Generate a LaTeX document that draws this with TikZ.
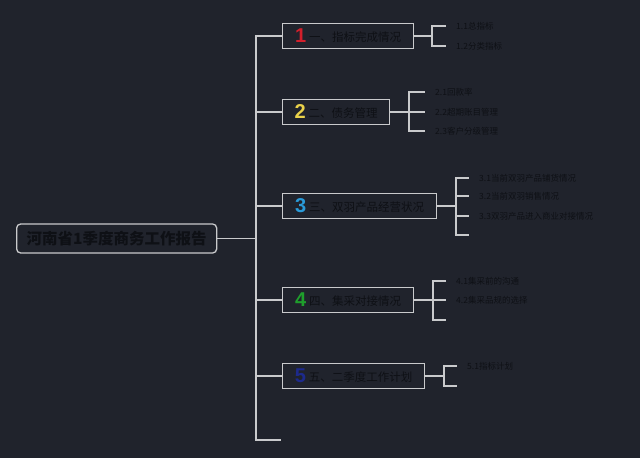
\documentclass[tikz,border=0pt]{standalone}
\usepackage{fontspec}
\setmainfont{Noto Sans CJK SC}
\newfontfamily\numfont{Liberation Sans}
\definecolor{bg}{HTML}{20232C}
\definecolor{linec}{HTML}{C9CACC}
\definecolor{txt}{HTML}{0E1015}
\definecolor{nred}{HTML}{D21F2B}
\definecolor{nyel}{HTML}{EAD24A}
\definecolor{nblue}{HTML}{2A9BD9}
\definecolor{ngreen}{HTML}{1F9F2C}
\definecolor{nnavy}{HTML}{1D2A8C}
\newcommand\bnum[2]{{\numfont\bfseries\fontsize{20}{20}\selectfont\color{#1}\raisebox{-1pt}{#2}}\hspace{3pt}}
\begin{document}
\begin{tikzpicture}[x=1pt,y=-1pt,
  conn/.style={draw=linec, line width=1.3pt},
  rootbox/.style={draw=linec, line width=1.3pt, fill=bg, rounded corners=4pt,
    minimum width=200pt, minimum height=29pt, inner sep=0pt, anchor=west,
    text=txt, font=\fontsize{15.5}{16}\selectfont\bfseries},
  branch/.style={draw=linec, line width=1.3pt, fill=bg, minimum height=25pt,
    inner sep=0pt, anchor=west, text=txt, font=\fontsize{11.5}{12}\selectfont},
  leaf/.style={anchor=west, inner xsep=10pt, inner ysep=0pt, text=txt,
    font=\fontsize{8.5}{9}\selectfont}]
\fill[bg] (0,0) rectangle (640,458);
\useasboundingbox (0,0) rectangle (640,458);

% root
\node[rootbox] (root) at (16,238.5) {河南省1季度商务工作报告};

% branches
\node[branch, minimum width=131pt] (b1) at (282,36) {\bnum{nred}{1}一、指标完成情况};
\node[branch, minimum width=107pt] (b2) at (282,112) {\bnum{nyel}{2}二、债务管理};
\node[branch, minimum width=154pt] (b3) at (282,206) {\bnum{nblue}{3}三、双羽产品经营状况};
\node[branch, minimum width=131pt] (b4) at (282,300) {\bnum{ngreen}{4}四、集采对接情况};
\node[branch, minimum width=142pt] (b5) at (282,376) {\bnum{nnavy}{5}五、二季度工作计划};

% trunk
\coordinate (tm) at (256,238.5);
\coordinate (tb) at (256,440);
\coordinate (te) at (281,440);
\draw[conn] (root.east) -- (tm);
\draw[conn] (b1.west) -| (tb) -- (te);
\foreach \b in {b2,b3,b4,b5} \draw[conn] (\b.west) -- (\b.west -| tm);

% bracket 1
\coordinate (j1) at (432,36);
\node[leaf] (l11) at (446,26) {1.1总指标};
\node[leaf] (l12) at (446,46) {1.2分类指标};
\draw[conn] (b1.east) -- (j1);
\draw[conn] (l11.west) -| (j1 |- l12.west) -- (l12.west);

% bracket 2
\coordinate (j2) at (409,112);
\node[leaf] (l21) at (425,92) {2.1回款率};
\node[leaf] (l22) at (425,112) {2.2超期账目管理};
\node[leaf] (l23) at (425,131) {2.3客户分级管理};
\draw[conn] (b2.east) -- (l22.west);
\draw[conn] (l21.west) -| (j2 |- l23.west) -- (l23.west);

% bracket 3
\coordinate (j3) at (456,206);
\node[leaf] (l31) at (469,178) {3.1当前双羽产品铺货情况};
\node[leaf] (l32) at (469,196) {3.2当前双羽销售情况};
\node[leaf] (l33) at (469,216) {3.3双羽产品进入商业对接情况};
\coordinate (e3) at (469,235);
\draw[conn] (b3.east) -- (j3);
\draw[conn] (l31.west) -| (j3 |- e3) -- (e3);
\draw[conn] (j3 |- l32.west) -- (l32.west);
\draw[conn] (j3 |- l33.west) -- (l33.west);

% bracket 4
\coordinate (j4) at (433,300);
\node[leaf] (l41) at (446,281) {4.1集采前的沟通};
\node[leaf] (l42) at (446,300) {4.2集采品规的选择};
\coordinate (e4) at (446,320);
\draw[conn] (b4.east) -- (l42.west);
\draw[conn] (l41.west) -| (j4 |- e4) -- (e4);

% bracket 5
\coordinate (j5) at (444,376);
\node[leaf] (l51) at (457,366) {5.1指标计划};
\coordinate (e5) at (457,386);
\draw[conn] (b5.east) -- (j5);
\draw[conn] (l51.west) -| (j5 |- e5) -- (e5);
\end{tikzpicture}
\end{document}
